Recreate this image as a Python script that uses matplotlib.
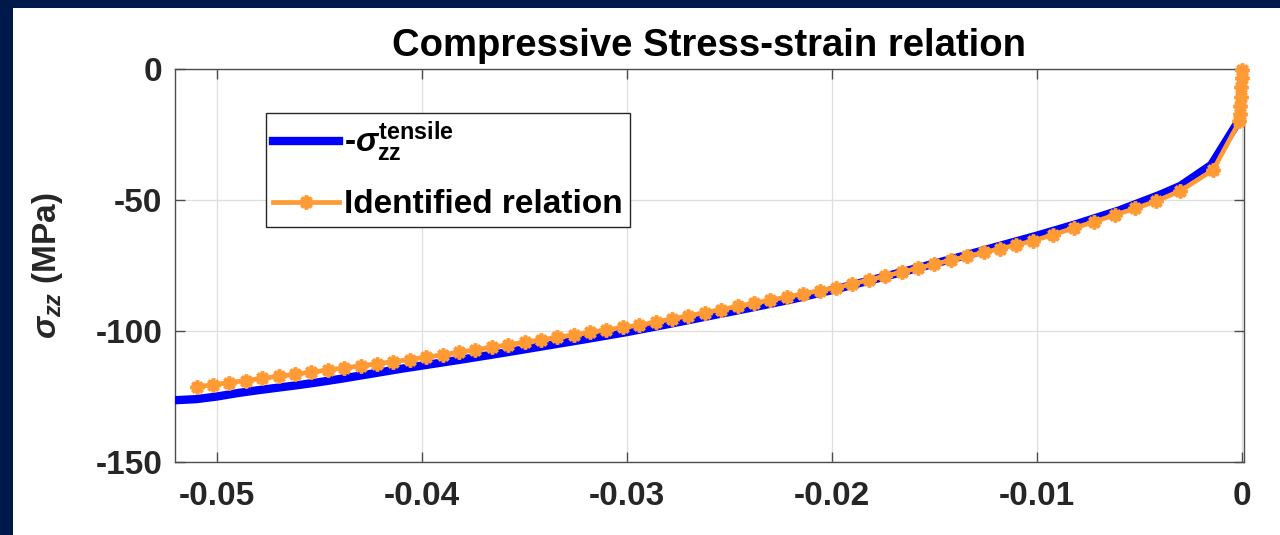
import matplotlib as mpl
import matplotlib.pyplot as plt
from matplotlib.patches import Rectangle

mpl.rcParams.update({
    "font.family": ["Liberation Sans", "DejaVu Sans"],
    "font.weight": "bold",
    "axes.unicode_minus": False,
    "mathtext.fontset": "custom",
    "mathtext.rm": "Liberation Sans:bold",
    "mathtext.it": "Liberation Sans:italic",
    "mathtext.bf": "Liberation Sans:bold",
    "mathtext.bfit": "Liberation Sans:bold:italic",
})

# measured tensile curve (negated) - strain, stress in MPa
strain_tensile = [-0.0520, -0.0510, -0.0500, -0.0490, -0.0480, -0.0470, -0.0460,
                  -0.0450, -0.0440, -0.0430, -0.0420, -0.0410, -0.0400, -0.0380,
                  -0.0360, -0.0340, -0.0320, -0.0300, -0.0280, -0.0260, -0.0240,
                  -0.0220, -0.0200, -0.0180, -0.0160, -0.0140, -0.0120, -0.0100,
                  -0.0080, -0.0060, -0.0040, -0.0030, -0.0015, -0.0001, -0.00005, 0.0]
stress_tensile = [-126.4, -126.0, -125.0, -123.7, -122.6, -121.6, -120.6,
                  -119.5, -118.3, -117.0, -115.7, -114.4, -113.2, -110.8,
                  -108.3, -105.7, -103.1, -100.4, -97.4, -94.3, -91.2,
                  -88.0, -84.4, -80.4, -76.3, -72.2, -67.9, -63.6,
                  -59.0, -54.0, -48.0, -44.6, -36.6, -19.0, -10.0, 0.0]

# identified relation (star markers)
strain_ident = [-0.0510, -0.0502, -0.0494, -0.0486, -0.0478, -0.0470, -0.0462,
                -0.0454, -0.0446, -0.0438, -0.0430, -0.0422, -0.0414, -0.0406,
                -0.0398, -0.0390, -0.0382, -0.0374, -0.0366, -0.0358, -0.0350,
                -0.0342, -0.0334, -0.0326, -0.0318, -0.0310, -0.0302, -0.0294,
                -0.0286, -0.0278, -0.0270, -0.0262, -0.0254, -0.0246, -0.0238,
                -0.0230, -0.0222, -0.0214, -0.0206, -0.0198, -0.0190, -0.0182,
                -0.0174, -0.0166, -0.0158, -0.0150, -0.0142, -0.0134, -0.0126,
                -0.0118, -0.0110, -0.0102, -0.0092, -0.0082, -0.0072, -0.0062,
                -0.0052, -0.0042, -0.0030, -0.0014,
                -0.00012, -0.00010, -0.00008, -0.00006, -0.00004, -0.00002, 0.0]
stress_ident = [-121.3, -120.5, -119.7, -118.9, -118.1, -117.3, -116.5,
                -115.7, -114.9, -114.1, -113.3, -112.5, -111.7, -110.9,
                -110.0, -109.1, -108.1, -107.2, -106.2, -105.3, -104.3,
                -103.4, -102.4, -101.5, -100.5, -99.6, -98.6, -97.8,
                -96.6, -95.4, -94.2, -93.0, -91.8, -90.6, -89.4,
                -88.2, -87.0, -85.8, -84.6, -83.5, -82.0, -80.5,
                -79.0, -77.5, -76.0, -74.5, -73.0, -71.5, -70.0,
                -68.6, -67.1, -65.6, -63.2, -60.7, -58.3, -55.7,
                -53.2, -50.5, -46.5, -38.5,
                -20.0, -17.0, -14.0, -10.5, -7.0, -3.5, -0.5]

xticks = [-0.05, -0.04, -0.03, -0.02, -0.01, 0]
xticklabels = ["-0.05", "-0.04", "-0.03", "-0.02", "-0.01", "0"]
yticks = [-150, -100, -50, 0]

W, H = 1280, 535
fig = plt.figure(figsize=(W / 100, H / 100), dpi=100)
fig.patch.set_facecolor("#00194B")
fig.add_artist(Rectangle((13 / W, 0), 1, (H - 8) / H, transform=fig.transFigure,
                         facecolor="white", edgecolor="none", zorder=-10))

ax = fig.add_axes([175 / W, (H - 462) / H, (1244 - 175) / W, (462 - 69) / H])

ax.plot(strain_tensile, stress_tensile, color="#0000FF", lw=6,
        label=r"-$\sigma^{\mathbf{tensile}}_{\mathbf{zz}}$", zorder=3)
ax.plot(strain_ident, stress_ident, color="#FF9A35", lw=3.4, marker=(8, 2, 0),
        markersize=10, markeredgewidth=2.6, label="Identified relation",
        clip_on=False, zorder=4)

ax.set_xlim(-0.05205, 0.0001)
ax.set_ylim(-150, 0)
ax.set_xticks(xticks)
ax.set_xticklabels(xticklabels)
ax.set_yticks(yticks)

ax.grid(True, color="#DEDEDE", lw=0.9)
ax.set_axisbelow(True)
for s in ax.spines.values():
    s.set_color("#4D4D4D")
    s.set_linewidth(1.0)
ax.tick_params(direction="in", length=7, width=1.0, color="#4D4D4D",
               top=True, right=True, labelsize=24, labelcolor="#262626")
ax.tick_params(axis="x", pad=14)
ax.tick_params(axis="y", pad=9)

ax.set_title("Compressive Stress-strain relation", fontsize=27.5,
             fontweight="bold", pad=9)
ax.set_ylabel(r"$\sigma_{\mathbfit{zz}}$ (MPa)", fontsize=24, color="#262626",
              fontweight="bold")
ax.yaxis.set_label_coords(-0.103, 0.5)

leg = ax.legend(loc="upper left", bbox_to_anchor=(0.085, 0.888), borderaxespad=0,
                fontsize=24, handlelength=2.0, handletextpad=0.15,
                numpoints=1, fancybox=False, framealpha=1, edgecolor="#262626",
                borderpad=0.2, labelspacing=0.75)
leg.get_frame().set_linewidth(1.0)

fig.savefig("out.png", dpi=100)
